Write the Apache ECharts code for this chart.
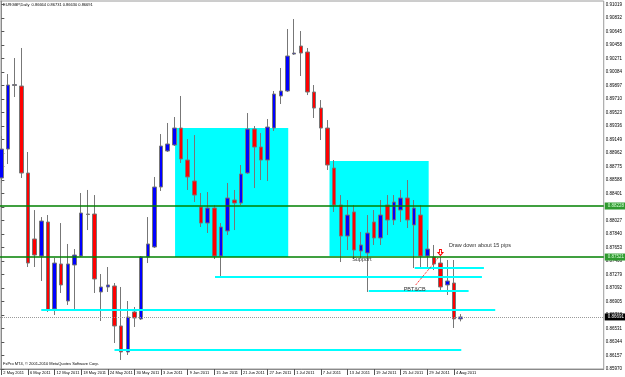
<!DOCTYPE html>
<html>
<head>
<meta charset="utf-8">
<title>EURGBP,Daily</title>
<script src="https://cdn.jsdelivr.net/npm/echarts@6.0.0/dist/echarts.min.js"></script>
<style>
  html, body { margin: 0; padding: 0; background: #fff; }
  #chart { width: 625px; height: 377px; }
</style>
</head>
<body>
<div id="chart"></div>
<script>
// trading days shown on the chart (2 May - 5 Aug 2011)
var days = [
  '2 May 2011', '3 May 2011', '4 May 2011', '5 May 2011', '6 May 2011', '9 May 2011', '10 May 2011', '11 May 2011',
  '12 May 2011', '13 May 2011', '16 May 2011', '17 May 2011', '18 May 2011', '19 May 2011', '20 May 2011', '23 May 2011',
  '24 May 2011', '25 May 2011', '26 May 2011', '27 May 2011', '30 May 2011', '31 May 2011', '1 Jun 2011', '2 Jun 2011',
  '3 Jun 2011', '6 Jun 2011', '7 Jun 2011', '8 Jun 2011', '9 Jun 2011', '10 Jun 2011', '13 Jun 2011', '14 Jun 2011',
  '15 Jun 2011', '16 Jun 2011', '17 Jun 2011', '20 Jun 2011', '21 Jun 2011', '22 Jun 2011', '23 Jun 2011', '24 Jun 2011',
  '27 Jun 2011', '28 Jun 2011', '29 Jun 2011', '30 Jun 2011', '1 Jul 2011', '4 Jul 2011', '5 Jul 2011', '6 Jul 2011',
  '7 Jul 2011', '8 Jul 2011', '11 Jul 2011', '12 Jul 2011', '13 Jul 2011', '14 Jul 2011', '15 Jul 2011', '18 Jul 2011',
  '19 Jul 2011', '20 Jul 2011', '21 Jul 2011', '22 Jul 2011', '25 Jul 2011', '26 Jul 2011', '27 Jul 2011', '28 Jul 2011',
  '29 Jul 2011', '1 Aug 2011', '2 Aug 2011', '3 Aug 2011', '4 Aug 2011', '5 Aug 2011'
];

var opens = [
  0.88616, 0.89017, 0.89897, 0.89890, 0.88685, 0.87771, 0.87535, 0.88006, 0.86801, 0.87425,
  0.86912, 0.87411, 0.87535, 0.88117, 0.88117, 0.87037, 0.87106, 0.87120, 0.86566, 0.86206,
  0.86760, 0.86663, 0.87521, 0.87660, 0.88491, 0.88990, 0.89073, 0.89308, 0.88865, 0.88574,
  0.88214, 0.87992, 0.88200, 0.87535, 0.87882, 0.88311, 0.88269, 0.88685, 0.89294, 0.89045,
  0.88865, 0.89308, 0.89752, 0.89821, 0.90333, 0.90444, 0.90361, 0.89807, 0.89585, 0.89308,
  0.88754, 0.88242, 0.87812, 0.88145, 0.87605, 0.87577, 0.88006, 0.87785, 0.88242, 0.88034,
  0.88172, 0.88339, 0.87965, 0.88103, 0.87535, 0.87521, 0.87438, 0.87134, 0.87161, 0.86664
];
var closes = [
  0.89017, 0.89904, 0.89911, 0.88685, 0.87438, 0.87549, 0.88020, 0.86787, 0.87438, 0.87134,
  0.87425, 0.87549, 0.88131, 0.88110, 0.87217, 0.87106, 0.87134, 0.86566, 0.86206, 0.86690,
  0.86677, 0.87521, 0.87702, 0.88491, 0.89059, 0.89087, 0.89308, 0.88879, 0.88630, 0.88380,
  0.87992, 0.88200, 0.87535, 0.87937, 0.88339, 0.88269, 0.88671, 0.89294, 0.89045, 0.88865,
  0.89322, 0.89779, 0.89821, 0.90306, 0.90347, 0.90347, 0.89807, 0.89585, 0.89308, 0.88796,
  0.88242, 0.87812, 0.88103, 0.87618, 0.87688, 0.87854, 0.87785, 0.88103, 0.88034, 0.88283,
  0.88339, 0.88034, 0.88200, 0.87535, 0.87632, 0.87425, 0.87106, 0.87189, 0.86664, 0.86691
];
var lows = [
  0.88547, 0.88810, 0.89738, 0.88616, 0.87383, 0.87383, 0.87189, 0.86760, 0.86718, 0.87023,
  0.86857, 0.86801, 0.87521, 0.87895, 0.87023, 0.86635, 0.87037, 0.86330, 0.86095, 0.86164,
  0.86552, 0.86649, 0.87438, 0.87646, 0.88436, 0.88976, 0.89059, 0.88824, 0.88450, 0.88283,
  0.87937, 0.87854, 0.87494, 0.87244, 0.87826, 0.87895, 0.88242, 0.88671, 0.88477, 0.88588,
  0.88574, 0.89267, 0.89641, 0.89807, 0.90320, 0.90029, 0.89765, 0.89447, 0.89142, 0.88727,
  0.88145, 0.87452, 0.87618, 0.87494, 0.87508, 0.87037, 0.87688, 0.87688, 0.87826, 0.87965,
  0.88006, 0.87923, 0.87369, 0.87369, 0.87369, 0.87341, 0.87037, 0.86995, 0.86538, 0.86630
];
var highs = [
  0.89198, 0.90056, 0.90278, 0.90417, 0.88976, 0.88172, 0.88075, 0.88103, 0.87508, 0.87992,
  0.87702, 0.87632, 0.88408, 0.88450, 0.88380, 0.87286, 0.87383, 0.87161, 0.87106, 0.86912,
  0.86829, 0.87535, 0.88075, 0.88630, 0.89225, 0.89378, 0.89461, 0.89752, 0.89156, 0.89211,
  0.88408, 0.88422, 0.88242, 0.87992, 0.88547, 0.88450, 0.88796, 0.89516, 0.89336, 0.89239,
  0.89433, 0.89821, 0.90140, 0.90680, 0.90818, 0.90652, 0.90417, 0.89904, 0.89696, 0.89419,
  0.88865, 0.88380, 0.88311, 0.88242, 0.87868, 0.88103, 0.88172, 0.88311, 0.88380, 0.88380,
  0.88450, 0.88588, 0.88311, 0.88242, 0.87895, 0.87688, 0.87521, 0.87480, 0.87480, 0.86731
];

// price scale labels on the right, and the bars that carry a date label
var priceTicks = [
  0.85970, 0.86157, 0.86344, 0.86531, 0.86718, 0.86905, 0.87092, 0.87279, 0.87466, 0.87653,
  0.87840, 0.88027, 0.88214, 0.88401, 0.88588, 0.88775, 0.88962, 0.89149, 0.89336, 0.89523,
  0.89710, 0.89897, 0.90084, 0.90271, 0.90458, 0.90645, 0.90832, 0.91019
];
var dateTicks = [0, 4, 8, 12, 16, 20, 24, 28, 32, 36, 40, 44, 48, 52, 56, 60, 64, 68];

// drawn objects: green horizontal lines, cyan rectangles [from, to, top, bottom], cyan levels [from, to, price]
var greenLines = [0.88228, 0.87521];
var boxes = [[26.1, 43.1, 0.89308, 0.87521], [49.3, 64.2, 0.88851, 0.87535]];
var levels = [
  [62.1, 72.5, 0.87369],
  [32.1, 72.2, 0.87244],
  [55.2, 70.2, 0.87050],
  [6.0, 74.2, 0.86787],
  [17.0, 69.1, 0.86233]
];
// text notes [day, price, text]
var notes = [
  [54.15, 0.87494, 'Support'],
  [62.1, 0.87078, 'PBT&CB'],
  [71.9, 0.87688, 'Draw down about 15 pips']
];
var pbtLine = [[62.25, 0.87134], [65.7, 0.87517]];
var arrowAt = [65.97, 0.87584];

var last = days.length - 1;
var lastPrice = closes[last];

var myChart = echarts.init(document.getElementById('chart'));

var font = 'Liberation Sans';
var candles = days.map(function (d, i) {
  return [i, opens[i], closes[i], lows[i], highs[i]];
});

var option = {
  animation: false,
  backgroundColor: '#fff',
  textStyle: {fontFamily: font},
  grid: {left: 0, right: 15, top: 1, bottom: 8, show: true, borderColor: '#9a9a9a', borderWidth: 1},
  graphic: [
    {type: 'text', left: 3, top: 3, style: {
      text: 'EURGBP,Daily  ' + [opens[last], highs[last], lows[last], closes[last]].map(function (v) { return v.toFixed(5); }).join(' '),
      fontSize: 4, fontFamily: font, fill: '#000'}},
    {type: 'text', left: 3, top: 362, style: {
      text: 'FxPro MT4, \u00a9 2001-2010 MetaQuotes Software Corp.', fontSize: 4, fontFamily: font, fill: '#000'}}
  ],
  xAxis: {
    type: 'value', min: -0.2, max: 90.5,
    splitLine: {show: false},
    axisLine: {lineStyle: {color: '#8a8a8a'}},
    axisTick: {customValues: dateTicks, length: 6, lineStyle: {color: '#555'}},
    axisLabel: {customValues: dateTicks, fontSize: 4, color: '#000', align: 'left', margin: 2, padding: [0, 0, 0, 2],
      formatter: function (v) { return days[v] || ''; }}
  },
  yAxis: {
    type: 'value', position: 'right', min: 0.8597, max: 0.91068,
    splitLine: {show: false},
    axisLine: {show: true, lineStyle: {color: '#8a8a8a'}},
    axisTick: {show: true, customValues: priceTicks, length: 3, lineStyle: {color: '#555'}},
    axisLabel: {customValues: priceTicks, fontSize: 4.5, color: '#000', margin: 2,
      formatter: function (v) { return v.toFixed(5); }}
  },
  series: [
    {
      // rectangles and levels, behind the candles
      type: 'line', data: [], z: 1, silent: true,
      markArea: {silent: true, itemStyle: {color: '#00ffff', opacity: 1},
        data: boxes.map(function (b) { return [{coord: [b[0], b[2]]}, {coord: [b[1], b[3]]}]; })},
      markLine: {silent: true, symbol: 'none', precision: 5, label: {show: false},
        lineStyle: {color: '#00ffff', width: 2, type: 'solid'},
        data: levels.map(function (l) { return [{coord: [l[0], l[2]]}, {coord: [l[1], l[2]]}]; })}
    },
    {
      type: 'candlestick', z: 2, barWidth: 4,
      encode: {x: 0, y: [1, 2, 3, 4]},
      data: candles,
      itemStyle: {color: '#0000ff', color0: '#ff0000', borderColor: '#777', borderColor0: '#777', borderWidth: 1}
    },
    {
      // horizontal lines, price line and the notes on top
      type: 'line', data: [], z: 3, silent: true,
      markLine: {
        silent: true, symbol: 'none', precision: 5,
        data: greenLines.map(function (p) {
          return {yAxis: p, lineStyle: {color: '#008000', width: 1.5, type: 'solid'},
            label: {show: true, position: 'end', distance: 1, formatter: p.toFixed(5), fontSize: 4.5,
              color: '#d8ffd8', backgroundColor: '#2f9a2f', padding: [1, 3]}};
        }).concat([
          {yAxis: lastPrice, lineStyle: {color: '#9a9a9a', width: 1, type: 'dotted'},
            label: {show: true, position: 'end', distance: 1, formatter: lastPrice.toFixed(5), fontSize: 4.5,
              color: '#fff', backgroundColor: '#000', padding: [1, 3]}},
          [{coord: pbtLine[0], lineStyle: {color: '#ff0000', width: 1, type: 'dotted'}, label: {show: false}},
           {coord: pbtLine[1]}]
        ])
      },
      markPoint: {
        silent: true,
        data: notes.map(function (n) {
          return {coord: [n[0], n[1]], symbol: 'circle', symbolSize: 0,
            label: {show: true, position: 'inside', formatter: n[2], fontSize: 5.5, color: '#333'}};
        }).concat([{
          coord: arrowAt, symbol: 'path://M3,0 L7,0 L7,5 L10,5 L5,10 L0,5 L3,5 Z', symbolSize: [5, 6],
          itemStyle: {color: '#fff', borderColor: '#ff0000', borderWidth: 1}, label: {show: false}
        }])
      }
    }
  ]
};

myChart.setOption(option);
</script>
</body>
</html>
